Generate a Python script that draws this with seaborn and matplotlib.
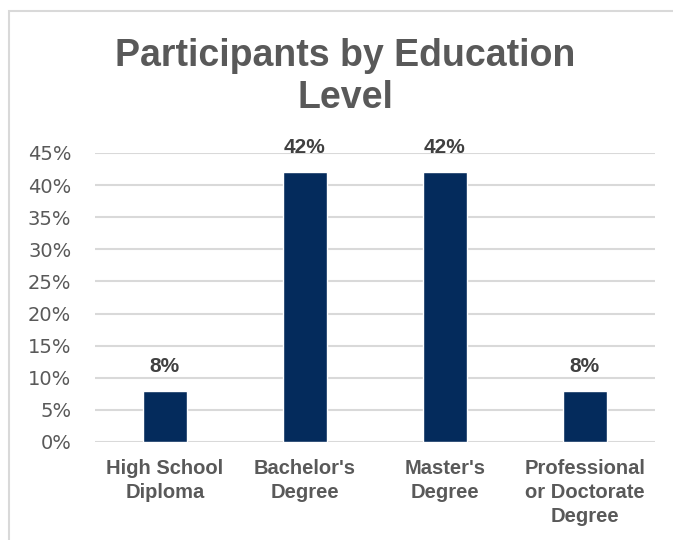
import pandas as pd
import seaborn as sns
from matplotlib import pyplot as plt
from matplotlib.patches import Rectangle

categories = ["High School\nDiploma", "Bachelor's\nDegree", "Master's\nDegree",
              "Professional\nor Doctorate\nDegree"]
shares = [0.08, 0.42, 0.42, 0.08]
yticks = [0, 0.05, 0.10, 0.15, 0.20, 0.25, 0.30, 0.35, 0.40, 0.45]

df = pd.DataFrame({"level": categories, "share": shares})

sns.set_style("white")
plt.rcParams["font.family"] = ["Liberation Sans", "DejaVu Sans"]

fig = plt.figure(figsize=(6.73, 5.4), dpi=100)
ax = fig.add_axes([0.141, 0.1815, 0.832, 0.5352])

# light frame around the chart area
fig.patches.append(Rectangle((9 / 673, -0.05), 1.2, 1 - 11 / 540 + 0.05,
                             transform=fig.transFigure, fill=False,
                             edgecolor="#D9D9D9", linewidth=1.5, zorder=0))

sns.barplot(data=df, x="level", y="share", color="#042B5C", width=0.315,
            saturation=1, ax=ax, zorder=3)

ax.set_ylim(0, 0.45)
ax.set_xlim(-0.5, 3.5)
ax.set_yticks(yticks)
ax.set_yticklabels([f"{int(round(v * 100))}%" for v in yticks],
                   fontsize=14, color="#595959", family=["DejaVu Sans"])
ax.set_xticks(range(len(categories)))
ax.set_xticklabels(categories, fontsize=14.5, fontweight="bold", color="#595959",
                   linespacing=1.35)
ax.tick_params(axis="y", length=0, pad=17)
ax.tick_params(axis="x", length=0, pad=12)

ax.yaxis.grid(True, color="#D9D9D9", linewidth=1.5, zorder=0)
ax.set_axisbelow(True)
for s in ax.spines.values():
    s.set_visible(False)

for i, v in enumerate(shares):
    ax.text(i, v + 0.038, f"{int(round(v * 100))}%", ha="center", va="center",
            fontsize=15, fontweight="bold", color="#404040")

ax.set_xlabel("")
ax.set_ylabel("")
fig.text(0.513, 0.857, "Participants by Education\nLevel", ha="center",
         va="center", fontsize=27, fontweight="bold", color="#595959",
         linespacing=1.2)

plt.savefig("out.png", dpi=100)
